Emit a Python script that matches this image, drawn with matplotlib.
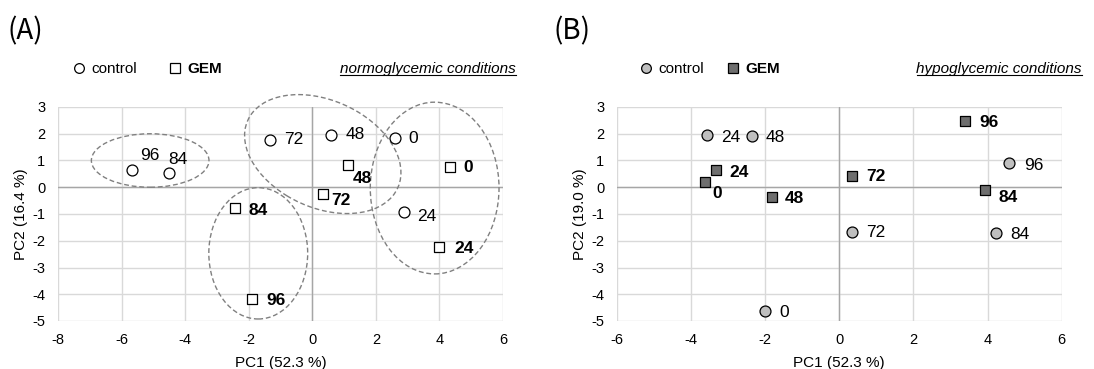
import matplotlib
matplotlib.use("Agg")
import matplotlib.pyplot as plt
from matplotlib.patches import Ellipse
from matplotlib.lines import Line2D

plt.rcParams['font.family'] = ['Liberation Sans', 'DejaVu Sans']
plt.rcParams['axes.unicode_minus'] = False

# ---- data: PCA scores (PC1, PC2) per time point (h) ----
times = ["0", "24", "48", "72", "84", "96"]

# (A) normoglycemic conditions
normo_ctrl_pc1 = [2.59, 2.87, 0.58, -1.34, -4.51, -5.66]
normo_ctrl_pc2 = [1.84, -0.93, 1.96, 1.78, 0.53, 0.65]
normo_gem_pc1 = [4.32, 3.99, 1.12, 0.34, -2.44, -1.90]
normo_gem_pc2 = [0.75, -2.22, 0.84, -0.25, -0.78, -4.19]

# (B) hypoglycemic conditions
hypo_ctrl_pc1 = [-2.01, -3.56, -2.35, 0.35, 4.22, 4.57]
hypo_ctrl_pc2 = [-4.63, 1.94, 1.93, -1.66, -1.72, 0.90]
hypo_gem_pc1 = [-3.62, -3.33, -1.81, 0.35, 3.94, 3.40]
hypo_gem_pc2 = [0.19, 0.63, -0.35, 0.43, -0.12, 2.46]

pc1_label = "PC1 (52.3 %)"
pc2_label_a = "PC2 (16.4 %)"
pc2_label_b = "PC2 (19.0 %)"

# label offsets in pixels (dx, dy) for each time point
normo_ctrl_off = [(14, 0), (14, -4), (15, 0), (14, 0), (-1, 14), (8, 14)]
normo_gem_off = [(14, 0), (15, -2), (5, -14), (8, -7), (14, -2), (14, -1)]
hypo_ctrl_off = [(15, -1), (14, -2), (14, -2), (14, -1), (15, -1), (15, -2)]
hypo_gem_off = [(7, -11), (14, -2), (13, -2), (14, -1), (13, -7), (14, -1)]

# group ellipses for panel A: (cx, cy, width, height, angle)
normo_groups = [
    (-5.10, 1.00, 3.70, 2.00, 0),
    (0.33, 1.24, 5.40, 3.85, -36),
    (3.85, -0.03, 4.05, 6.42, 0),
    (-1.70, -2.47, 3.11, 4.91, 0),
]

W, H = 1094, 369
fig = plt.figure(figsize=(W / 100, H / 100), dpi=100)

ax_a = fig.add_axes([58 / W, 1 - 321 / H, 445 / W, 214 / H])
ax_b = fig.add_axes([616.7 / W, 1 - 321 / H, 445 / W, 214 / H])

ctrl_fill_b = "#bfbfbf"
gem_fill_b = "#6e6e6e"


def style_axes(ax, xlim, ylabel):
    ax.set_xlim(*xlim)
    ax.set_ylim(-5, 3)
    ax.set_xticks(range(xlim[0], xlim[1] + 1, 2))
    ax.set_yticks(range(-5, 4))
    for s in ax.spines.values():
        s.set_visible(False)
    ax.grid(True, color="#d9d9d9", lw=1.0, zorder=0)
    ax.set_axisbelow(True)
    ax.axhline(0, color="#a6a6a6", lw=1.0, zorder=1)
    ax.axvline(0, color="#a6a6a6", lw=1.0, zorder=1)
    ax.tick_params(length=0, labelsize=10.5, colors="#000000")
    ax.tick_params(axis="x", pad=9)
    ax.tick_params(axis="y", pad=9)
    ax.set_xlabel(pc1_label, fontsize=11, labelpad=6)
    ax.set_ylabel(ylabel, fontsize=11, labelpad=3)


def draw_points(ax, x, y, offs, marker, fc, bold, size):
    ax.scatter(x, y, marker=marker, s=size, facecolor=fc, edgecolor="black",
               linewidth=0.9, zorder=4)
    for xi, yi, t, (dx, dy) in zip(x, y, times, offs):
        ax.annotate(t, (xi, yi), xytext=(dx, dy), textcoords="offset pixels",
                    ha="left", va="center", fontsize=12.5,
                    fontweight="bold" if bold else "normal", zorder=5)


style_axes(ax_a, (-8, 6), pc2_label_a)
style_axes(ax_b, (-6, 6), pc2_label_b)

for cx, cy, w, h, ang in normo_groups:
    ax_a.add_patch(Ellipse((cx, cy), w, h, angle=ang, fill=False,
                           edgecolor="#808080", lw=1.0, ls=(0, (3.5, 2)),
                           zorder=3, clip_on=False))

draw_points(ax_a, normo_ctrl_pc1, normo_ctrl_pc2, normo_ctrl_off, "o", "white", False, 62)
draw_points(ax_a, normo_gem_pc1, normo_gem_pc2, normo_gem_off, "s", "white", True, 58)
draw_points(ax_b, hypo_ctrl_pc1, hypo_ctrl_pc2, hypo_ctrl_off, "o", ctrl_fill_b, False, 62)
draw_points(ax_b, hypo_gem_pc1, hypo_gem_pc2, hypo_gem_off, "s", gem_fill_b, True, 58)


def add_legend(ax, fc_c, fc_g, x_anchor, colsp):
    handles = [
        Line2D([], [], marker="o", ls="none", ms=7, mfc=fc_c, mec="black", mew=0.9),
        Line2D([], [], marker="s", ls="none", ms=7, mfc=fc_g, mec="black", mew=0.9),
    ]
    leg = ax.legend(handles, ["control", "GEM"], ncol=2, frameon=False,
                    loc="center left", bbox_to_anchor=(x_anchor, 1.178),
                    fontsize=11, handletextpad=0.2, columnspacing=colsp,
                    handlelength=1.2, borderaxespad=0, borderpad=0)
    leg.get_texts()[1].set_fontweight("bold")


add_legend(ax_a, "white", "white", 0.026, 1.9)
add_legend(ax_b, ctrl_fill_b, gem_fill_b, 0.045, 1.3)

fig.text(8 / W, 1 - 31 / H, "(A)", fontsize=20, va="center", ha="left",
         family=["Noto Sans CJK JP", "DejaVu Sans"])
fig.text(553 / W, 1 - 31 / H, "(B)", fontsize=20, va="center", ha="left",
         family=["Noto Sans CJK JP", "DejaVu Sans"])

cond_texts = [
    fig.text(516 / W, 1 - 69 / H, "normoglycemic conditions", fontsize=11,
             style="italic", ha="right", va="center"),
    fig.text(1082 / W, 1 - 69 / H, "hypoglycemic conditions", fontsize=11,
             style="italic", ha="right", va="center"),
]

# underline the condition captions
fig.canvas.draw()
renderer = fig.canvas.get_renderer()
for t in cond_texts:
    bb = t.get_window_extent(renderer)
    y = bb.y0 + 1
    fig.add_artist(Line2D([bb.x0 / W, bb.x1 / W], [y / H, y / H],
                          color="black", lw=0.8, transform=fig.transFigure))

fig.savefig("out.png", dpi=100)
